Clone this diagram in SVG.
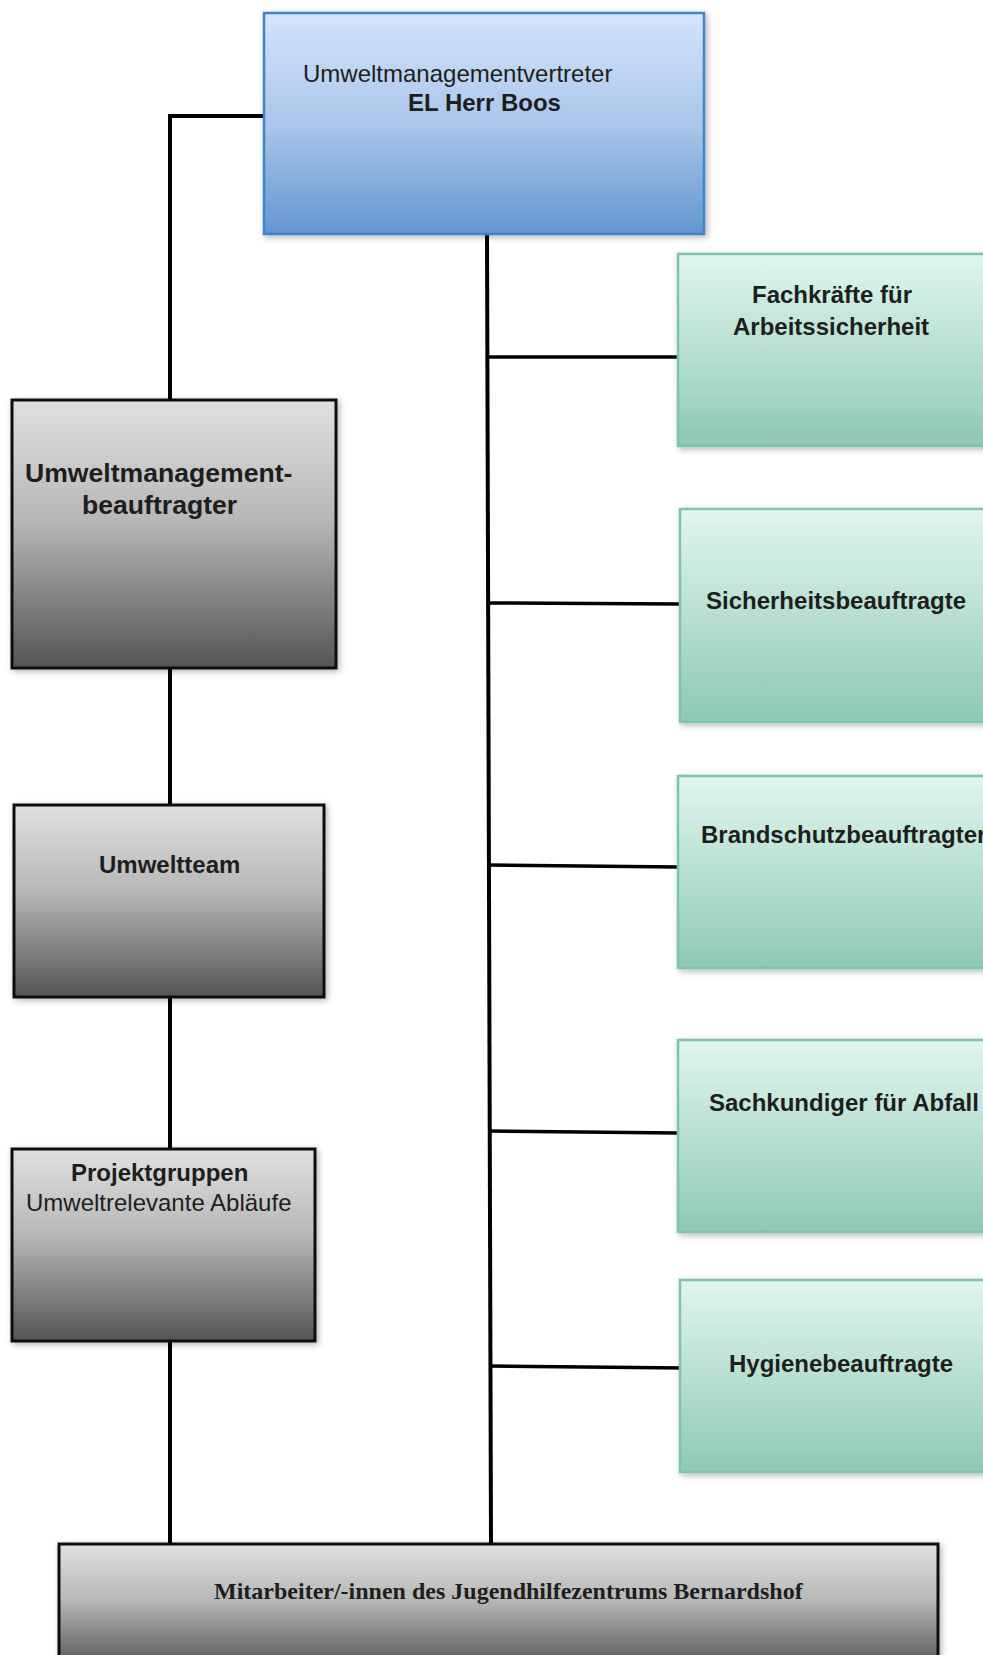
<svg xmlns="http://www.w3.org/2000/svg" width="983" height="1655" viewBox="0 0 983 1655">
<defs>
<linearGradient id="gBlue" x1="0" y1="0" x2="0" y2="1">
<stop offset="0" stop-color="#d4e4fb"/>
<stop offset="0.5" stop-color="#abc6ea"/>
<stop offset="1" stop-color="#6396d0"/>
</linearGradient>
<linearGradient id="gGray" x1="0" y1="0" x2="0" y2="1">
<stop offset="0" stop-color="#e0e0e0"/>
<stop offset="0.45" stop-color="#b7b7b7"/>
<stop offset="1" stop-color="#545454"/>
</linearGradient>
<linearGradient id="gGreen" x1="0" y1="0" x2="0" y2="1">
<stop offset="0" stop-color="#e1f7ef"/>
<stop offset="1" stop-color="#8ec8b3"/>
</linearGradient>
<filter id="sh" x="-10%" y="-10%" width="120%" height="120%">
<feDropShadow dx="2" dy="2" stdDeviation="3" flood-color="#000" flood-opacity="0.3"/>
</filter>
<style>
.gray{fill:url(#gGray);stroke:#111;stroke-width:3;filter:url(#sh)}
.green{fill:url(#gGreen);stroke:#7fc4aa;stroke-width:2.5;filter:url(#sh)}
.blue{fill:url(#gBlue);stroke:#3a86c8;stroke-width:2.5;filter:url(#sh)}
.t{font-family:"Liberation Sans",Arial,sans-serif;font-size:24px;fill:#1e1e1e}
.b{font-weight:bold}
.ser{font-family:"Liberation Serif","Times New Roman",serif;font-size:24px;font-weight:bold;fill:#1e1e1e}
.ln{stroke:#000;stroke-width:4;fill:none}
.br{stroke:#000;stroke-width:3.5;fill:none}
</style>
</defs>
<g id="connectors">
<polyline class="ln" points="264,116 170,116 170,401"/>
<line class="ln" x1="170" y1="668" x2="170" y2="806"/>
<line class="ln" x1="170" y1="997" x2="170" y2="1150"/>
<line class="ln" x1="170" y1="1341" x2="170" y2="1544"/>
<line class="ln" x1="487" y1="235" x2="491" y2="1544"/>
<line class="br" x1="487" y1="357" x2="678" y2="357"/>
<line class="br" x1="489" y1="603" x2="680" y2="604"/>
<line class="br" x1="489" y1="865" x2="678" y2="867"/>
<line class="br" x1="488" y1="1131" x2="678" y2="1133"/>
<line class="br" x1="490" y1="1366" x2="685" y2="1368"/>
</g>
<g id="node-vertreter">
<rect class="blue" x="264" y="13" width="440" height="221"/>
<text class="t" x="303" y="82">Umweltmanagementvertreter</text>
<text class="t b" x="408" y="111">EL Herr Boos</text>
</g>
<g id="node-beauftragter">
<rect class="gray" x="12" y="400" width="324" height="268"/>
<text class="t b" x="25" y="482" style="font-size:26.6px">Umweltmanagement-</text>
<text class="t b" x="82" y="514" style="font-size:26.6px">beauftragter</text>
</g>
<g id="node-umweltteam">
<rect class="gray" x="14" y="805" width="310" height="192"/>
<text class="t b" x="99" y="873">Umweltteam</text>
</g>
<g id="node-projektgruppen">
<rect class="gray" x="12" y="1149" width="303" height="192"/>
<text class="t b" x="71" y="1181">Projektgruppen</text>
<text class="t" x="26" y="1211">Umweltrelevante Abläufe</text>
</g>
<g id="node-fachkraefte">
<rect class="green" x="678" y="254" width="320" height="192"/>
<text class="t b" x="752" y="303">Fachkräfte für</text>
<text class="t b" x="733" y="335">Arbeitssicherheit</text>
</g>
<g id="node-sicherheit">
<rect class="green" x="680" y="509" width="320" height="213"/>
<text class="t b" x="706" y="609">Sicherheitsbeauftragte</text>
</g>
<g id="node-brandschutz">
<rect class="green" x="678" y="776" width="320" height="192"/>
<text class="t b" x="701" y="843">Brandschutzbeauftragter</text>
</g>
<g id="node-abfall">
<rect class="green" x="678" y="1040" width="320" height="192"/>
<text class="t b" x="709" y="1111">Sachkundiger für Abfall</text>
</g>
<g id="node-hygiene">
<rect class="green" x="680" y="1280" width="320" height="192"/>
<text class="t b" x="729" y="1372">Hygienebeauftragte</text>
</g>
<g id="node-mitarbeiter">
<rect class="gray" x="59" y="1544" width="879" height="125"/>
<text class="ser" x="214" y="1599">Mitarbeiter/-innen des Jugendhilfezentrums Bernardshof</text>
</g>
</svg>
